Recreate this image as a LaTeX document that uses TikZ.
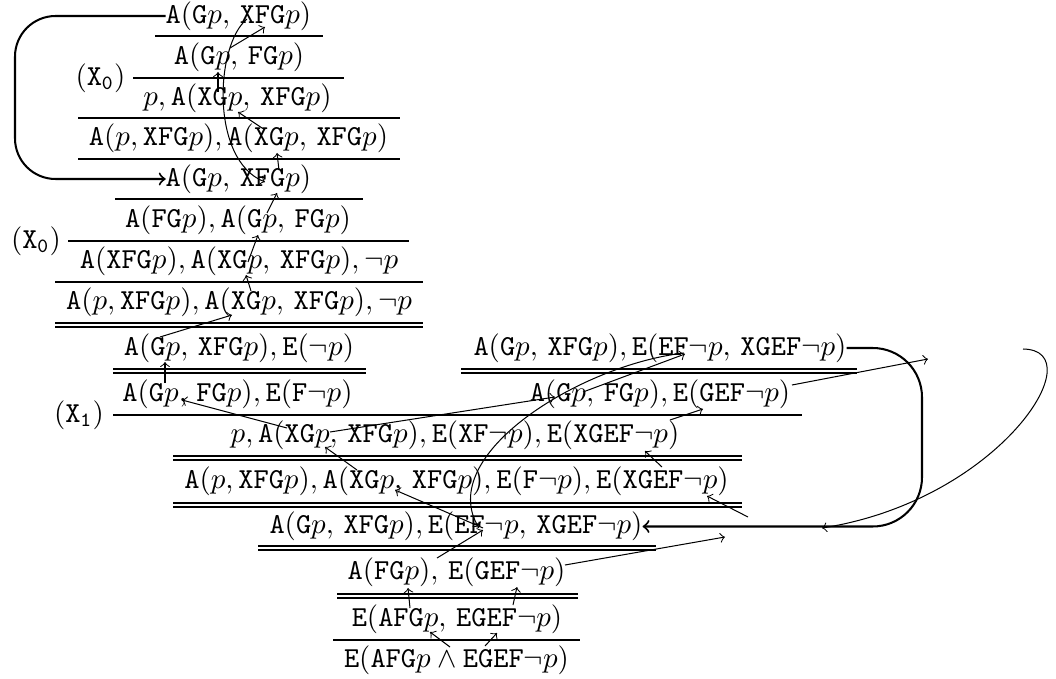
\documentclass[tikz,border=0pt]{standalone}
\usetikzlibrary{calc}
\newcommand\dblrule[3]{\draw[rule] (#1,#3) -- (#2,#3); \draw[rule] (#1,{#3+4}) -- (#2,{#3+4});}
\newcommand\wsp{\,}
\begin{document}
\begin{tikzpicture}[x=0.345pt,y=-0.345pt,
  seq/.style={inner sep=0pt, outer sep=0pt, text height=7.5pt, text depth=2.5pt, anchor=center},
  rule/.style={line width=0.5pt},
  thickrule/.style={line width=1pt},
  trace/.style={->, line width=0.35pt},
  loopline/.style={->, line width=0.7pt}]
\useasboundingbox (0,0) rectangle (1056,679);

% ---- sequents ----
\node[seq] (n1)  at (238.5,16)  {$\mathtt{A}(\mathtt{G}p,\wsp\mathtt{XFG}p)$};
\node[seq] (n2)  at (239,57)    {$\mathtt{A}(\mathtt{G}p,\wsp\mathtt{FG}p)$};
\node[seq] (n3)  at (237.5,98)  {$p, \mathtt{A}(\mathtt{XG}p,\wsp\mathtt{XFG}p)$};
\node[seq] (n4)  at (238.5,138.5) {$\mathtt{A}(p, \mathtt{XFG}p), \mathtt{A}(\mathtt{XG}p,\wsp\mathtt{XFG}p)$};
\node[seq] (n5)  at (238.5,179) {$\mathtt{A}(\mathtt{G}p,\wsp\mathtt{XFG}p)$};
\node[seq] (n6)  at (238,220)   {$\mathtt{A}(\mathtt{FG}p), \mathtt{A}(\mathtt{G}p,\wsp\mathtt{FG}p)$};
\node[seq] (n7)  at (239,261.5) {$\mathtt{A}(\mathtt{XFG}p), \mathtt{A}(\mathtt{XG}p,\wsp\mathtt{XFG}p), \neg p$};
\node[seq] (n8)  at (239,302.5) {$\mathtt{A}(p, \mathtt{XFG}p), \mathtt{A}(\mathtt{XG}p,\wsp\mathtt{XFG}p), \neg p$};
\node[seq] (n9)  at (239,348)   {$\mathtt{A}(\mathtt{G}p,\wsp\mathtt{XFG}p), \mathtt{E}(\neg p)$};
\node[seq] (n10) at (237.5,394) {$\mathtt{A}(\mathtt{G}p,\wsp\mathtt{FG}p), \mathtt{E}(\mathtt{F}\neg p)$};
\node[seq] (r1)  at (660,348)   {$\mathtt{A}(\mathtt{G}p,\wsp\mathtt{XFG}p), \mathtt{E}(\mathtt{EF}\neg p,\wsp\mathtt{XGEF}\neg p)$};
\node[seq] (r2)  at (660,394)   {$\mathtt{A}(\mathtt{G}p,\wsp\mathtt{FG}p), \mathtt{E}(\mathtt{GEF}\neg p)$};
\node[seq] (n11) at (455,435.5) {$p, \mathtt{A}(\mathtt{XG}p,\wsp\mathtt{XFG}p), \mathtt{E}(\mathtt{XF}\neg p), \mathtt{E}(\mathtt{XGEF}\neg p)$};
\node[seq] (n12) at (456.5,481.5) {$\mathtt{A}(p, \mathtt{XFG}p), \mathtt{A}(\mathtt{XG}p,\wsp\mathtt{XFG}p), \mathtt{E}(\mathtt{F}\neg p), \mathtt{E}(\mathtt{XGEF}\neg p)$};
\node[seq] (n13) at (456,526.5) {$\mathtt{A}(\mathtt{G}p,\wsp\mathtt{XFG}p), \mathtt{E}(\mathtt{EF}\neg p,\wsp\mathtt{XGEF}\neg p)$};
\node[seq] (n14) at (456.5,572) {$\mathtt{A}(\mathtt{FG}p),\wsp\mathtt{E}(\mathtt{GEF}\neg p)$};
\node[seq] (n15) at (457,619)   {$\mathtt{E}(\mathtt{AFG}p,\wsp\mathtt{EGEF}\neg p)$};
\node[seq] (n16) at (456.5,660) {$\mathtt{E}(\mathtt{AFG}p \wedge \mathtt{EGEF}\neg p)$};

% ---- rule labels ----
\node[seq] (x0a) at (100.5,78) {$(\mathtt{X}_{\mathtt{0}})$};
\node[seq] (x0b) at (36,241)   {$(\mathtt{X}_{\mathtt{0}})$};
\node[seq] (x1)  at (79,415)   {$(\mathtt{X}_{\mathtt{1}})$};

% ---- inference rules ----
\draw[rule] (155,36) -- (323,36);
\draw[rule] (133,78) -- (344,78);
\draw[rule] (78,118) -- (400,118);
\draw[thickrule] (78,159) -- (400,159);
\draw[rule] (115,199) -- (363,199);
\draw[rule] (68,241) -- (409,241);
\draw[rule] (55,282) -- (423,282);
\dblrule{55}{423}{323}
\dblrule{113}{366}{369}
\dblrule{461}{857}{369}
\draw[rule] (113,415) -- (802,415);
\dblrule{173}{742}{456}
\dblrule{173}{742}{503}
\dblrule{258}{656}{546}
\dblrule{337}{578}{594}
\draw[rule] (333,640) -- (580,640);

% ---- back links ----
\draw[loopline, rounded corners=14pt] (n1.west) -- (15,16) -- (15,179) -- (n5.west);
\draw[loopline, rounded corners=17pt] (r1.east) -- (922,348) -- (922,526.5) -- (n13.east);

% ---- trace end points ----
\coordinate (a1s) at (230,48);  \coordinate (a1e) at (265,27);
\coordinate (a2s) at (218,92);  \coordinate (a2e) at (218,72);
\coordinate (a3s) at (262,128); \coordinate (a3e) at (238,112);
\coordinate (a4s) at (279,170); \coordinate (a4e) at (277,153);
\coordinate (c1s) at (247,19);  \coordinate (c1e) at (265,182);
\coordinate (a5s) at (267,213); \coordinate (a5e) at (277,193);
\coordinate (a6s) at (248,262); \coordinate (a6e) at (258,235);
\coordinate (a7s) at (251,291); \coordinate (a7e) at (246,275);
\coordinate (a8s) at (160,337); \coordinate (a8e) at (232,315);
\coordinate (a9s) at (165,383); \coordinate (a9e) at (165,362);
\coordinate (b1s) at (287,428); \coordinate (b1e) at (182,400);
\coordinate (b2s) at (330,432); \coordinate (b2e) at (555,397);
\coordinate (b3s) at (670,420); \coordinate (b3e) at (703,409);
\coordinate (b4s) at (357,470); \coordinate (b4e) at (325,447);
\coordinate (b5s) at (662,467); \coordinate (b5e) at (645,451);
\coordinate (b6s) at (483,528); \coordinate (b6e) at (395,490);
\coordinate (b7s) at (748,517); \coordinate (b7e) at (707,496);
\coordinate (b8s) at (583,392); \coordinate (b8e) at (685,354);
\coordinate (c2s) at (684,353); \coordinate (c2e) at (479,528);
\coordinate (b9s) at (437,558); \coordinate (b9e) at (483,530);
\coordinate (b10s) at (792,385); \coordinate (b10e) at (928,359);
\coordinate (b11s) at (565,565); \coordinate (b11e) at (725,537);
\coordinate (c3s) at (1023,349); \coordinate (c3e) at (822,528);
\coordinate (d1s) at (410,608); \coordinate (d1e) at (408,588);
\coordinate (d2s) at (513,605); \coordinate (d2e) at (517,587);
\coordinate (d3s) at (450,647); \coordinate (d3e) at (430,632);
\coordinate (d4s) at (485,646); \coordinate (d4e) at (497,633);

% ---- traces ----
\foreach \t in {a1,a2,a3,a4,a5,a6,a7,a8,a9,b1,b2,b3,b4,b5,b6,b7,b8,b9,b10,b11,d1,d2,d3,d4}
  \draw[trace] (\t s) -- (\t e);
\draw[trace] (c1s) .. controls (215,45) and (210,160) .. (c1e);
\draw[trace] (c2s) .. controls (580,365) and (435,455) .. (c2e);
\draw[trace] (c3s) .. controls (1095,350) and (1000,500) .. (c3e);
\end{tikzpicture}
\end{document}
